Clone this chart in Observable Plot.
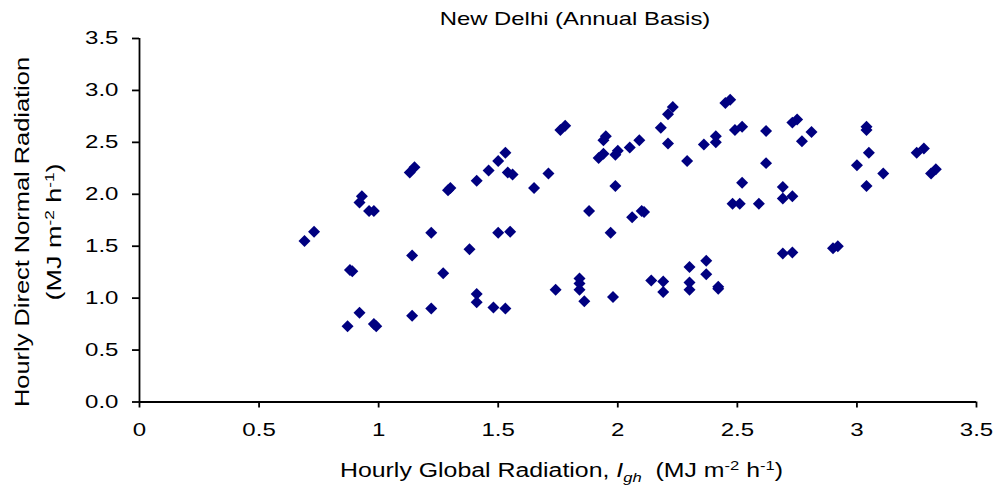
<!DOCTYPE html>
<html>
<head>
<meta charset="utf-8">
<script src="https://cdn.jsdelivr.net/npm/d3@7"></script>
<script src="https://cdn.jsdelivr.net/npm/@observablehq/plot@0.6"></script>
<style>
  html, body { margin: 0; padding: 0; background: #fff; }
  body { width: 997px; height: 496px; overflow: hidden; font-family: "Liberation Sans", Arial, sans-serif; }
  #title { position: relative; height: 20px; width: 997px; z-index: 1; }
  #title span { position: absolute; left: 575px; top: 10.3px; font-size: 18.5px; line-height: 18.5px; white-space: nowrap;
    transform: translateX(-50%) scaleX(1.29); color: #000; }
  #chart svg { display: block; background: transparent !important; }
</style>
</head>
<body>
<div id="title"><span>New Delhi (Annual Basis)</span></div>
<div id="chart"></div>
<script>
// Hourly global radiation (x) and hourly direct normal radiation (y), MJ m-2 h-1
const globalRad = [
  0.69, 0.73, 0.88, 0.89, 0.87, 0.92, 0.98, 0.99, 0.93, 0.92,
  0.96, 0.98, 1.13, 1.15, 1.14, 1.14, 1.22, 1.22, 1.27, 1.29,
  1.30, 1.38, 1.41, 1.41, 1.41, 1.46, 1.48, 1.50, 1.50, 1.53,
  1.53, 1.54, 1.56, 1.55, 1.65, 1.71, 1.74, 1.76, 1.78, 1.84,
  1.84, 1.84, 1.86, 1.88, 1.92, 1.94, 1.94, 1.95, 1.97, 1.98,
  1.99, 1.99, 2.00, 2.05, 2.06, 2.09, 2.10, 2.11, 2.14, 2.18,
  2.19, 2.19, 2.21, 2.23, 2.21, 2.29, 2.30, 2.30, 2.30, 2.36,
  2.37, 2.37, 2.41, 2.41, 2.42, 2.42, 2.45, 2.47, 2.48, 2.49,
  2.51, 2.52, 2.52, 2.59, 2.62, 2.62, 2.69, 2.69, 2.69, 2.73,
  2.73, 2.73, 2.75, 2.77, 2.81, 2.90, 2.92, 3.00, 3.04, 3.04,
  3.04, 3.05, 3.11, 3.25, 3.28, 3.31, 3.33
];
const directRad = [
  1.55, 1.64, 1.27, 1.26, 0.73, 0.86, 0.75, 0.73, 1.98, 1.92,
  1.84, 1.84, 2.21, 2.26, 1.41, 0.83, 1.63, 0.90, 1.24, 2.04,
  2.06, 1.47, 2.13, 1.04, 0.96, 2.23, 0.91, 2.32, 1.63, 2.40,
  0.90, 2.21, 2.19, 1.64, 2.06, 2.20, 1.08, 2.62, 2.66, 1.19,
  1.14, 1.08, 0.97, 1.84, 2.35, 2.39, 2.52, 2.56, 1.63, 1.01,
  2.08, 2.38, 2.42, 2.45, 1.78, 2.52, 1.84, 1.83, 1.17, 2.64,
  1.16, 1.06, 2.77, 2.84, 2.49, 2.32, 1.30, 1.15, 1.08, 2.48,
  1.36, 1.23, 2.56, 2.50, 1.11, 1.09, 2.88, 2.91, 1.91, 2.62,
  1.91, 2.65, 2.11, 1.91, 2.61, 2.30, 2.07, 1.96, 1.43, 2.69,
  1.98, 1.44, 2.72, 2.51, 2.60, 1.48, 1.50, 2.28, 2.65, 2.62,
  2.08, 2.40, 2.20, 2.40, 2.44, 2.20, 2.24
];
const xTicks = [0, 0.5, 1, 1.5, 2, 2.5, 3, 3.5];
const yTicks = [0, 0.5, 1, 1.5, 2, 2.5, 3, 3.5];

const points = globalRad.map((x, i) => ({x, y: directRad[i]}));

const font = "Liberation Sans, Arial, sans-serif";
const chart = Plot.plot({
  width: 997,
  height: 476,
  marginTop: 18,
  marginBottom: 94.5,
  marginLeft: 139,
  marginRight: 21,
  style: {fontFamily: font, fontSize: "18.5px", color: "#000", background: "transparent"},
  x: {domain: [0, 3.5]},
  y: {domain: [0, 3.5]},
  marks: [
    Plot.axisX({ticks: xTicks, tickFormat: d => `${d}`, tickSize: 6, tickPadding: 15, strokeWidth: 1.8, label: null, fontSize: 18.5}),
    Plot.axisY({ticks: yTicks, tickFormat: d3.format(".1f"), tickSize: 7, tickPadding: 14, strokeWidth: 1.8, label: null, fontSize: 18.5}),
    Plot.ruleY([0], {x1: 0, x2: 3.5, stroke: "#000", strokeWidth: 1.8}),
    Plot.ruleX([0], {y1: 0, y2: 3.5, stroke: "#000", strokeWidth: 1.8}),
    Plot.dot(points, {x: "x", y: "y", symbol: "diamond2", r: 5.4, fill: "#000080", stroke: "none"})
  ]
});
document.getElementById("chart").appendChild(chart);

const svg = d3.select(chart);
// widen horizontal tick labels to match the reference's letter proportions
svg.selectAll('g[aria-label="x-axis tick label"] text, g[aria-label="y-axis tick label"] text')
  .attr("transform", function() { return (this.getAttribute("transform") || "") + " scale(1.3,1)"; });

// Y axis title, line 1
svg.append("text")
  .attr("transform", "translate(28.5,212) rotate(-90)")
  .attr("text-anchor", "middle").attr("font-family", font).attr("font-size", 20.5).attr("fill", "#000")
  .attr("textLength", 350).attr("lengthAdjust", "spacingAndGlyphs")
  .text("Hourly Direct Normal Radiation");
// Y axis title, line 2
{
  const t = svg.append("text")
    .attr("transform", "translate(61,212) rotate(-90)")
    .attr("text-anchor", "middle").attr("font-family", font).attr("font-size", 20.5).attr("fill", "#000")
    .attr("textLength", 137).attr("lengthAdjust", "spacingAndGlyphs");
  t.append("tspan").text("(MJ m");
  t.append("tspan").attr("dy", -7).attr("font-size", 13).text("-2");
  t.append("tspan").attr("dy", 7).text(" h");
  t.append("tspan").attr("dy", -7).attr("font-size", 13).text("-1");
  t.append("tspan").attr("dy", 7).text(")");
}
// X axis title
{
  const t = svg.append("text")
    .attr("x", 561.5).attr("y", 457.3)
    .attr("text-anchor", "middle").attr("font-family", font).attr("font-size", 19.5).attr("fill", "#000")
    .attr("textLength", 443).attr("lengthAdjust", "spacingAndGlyphs")
    .style("white-space", "pre");
  t.append("tspan").text("Hourly Global Radiation, ");
  t.append("tspan").attr("font-style", "italic").text("I");
  t.append("tspan").attr("font-style", "italic").attr("font-size", 13).attr("dy", 5).text("gh");
  t.append("tspan").attr("dy", -5).text("  (MJ m");
  t.append("tspan").attr("dy", -7).attr("font-size", 13).text("-2");
  t.append("tspan").attr("dy", 7).text(" h");
  t.append("tspan").attr("dy", -7).attr("font-size", 13).text("-1");
  t.append("tspan").attr("dy", 7).text(")");
}
</script>
</body>
</html>
